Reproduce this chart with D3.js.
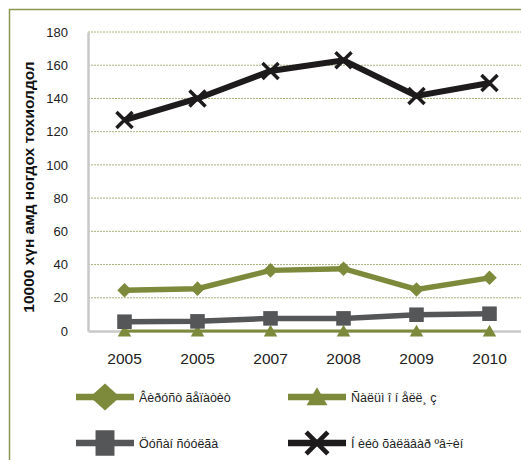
<!DOCTYPE html>
<html>
<head>
<meta charset="utf-8">
<script src="https://cdn.jsdelivr.net/npm/d3@7"></script>
<style>
  body { margin: 0; background: #fff; }
  text { font-family: "Liberation Sans", Arial, sans-serif; }
</style>
</head>
<body>
<script>
var years = ['2005', '2005 ', '2007', '2008', '2009', '2010'];
var hepatitis = [24.5, 25.5, 36.5, 37.5, 25, 32];
var salmonella = [0, 0, 0, 0, 0, 0];
var dysentery = [5.6, 5.8, 7.6, 7.6, 9.8, 10.4];
var totalInfect = [127, 140, 156.5, 163, 141.5, 149.3];
var yTicks = [0, 20, 40, 60, 80, 100, 120, 140, 160, 180];
var seriesNames = ['Âèðóñò ãåïàòèò', 'Ñàëüì î í åëë¸ ç', 'Öóñàí  ñóóëãà', 'Í èéò õàëäâàð ºâ÷èí'];

var olive = '#7d8a3b', grey = '#555658', black = '#1e1b1c';

var W = 521, H = 460;
var plotLeft = 88, plotTop = 32, plotBottom = 331;

var svg = d3.select('body').append('svg')
  .attr('width', W).attr('height', H);

// outer frame (cut off at right and bottom)
svg.append('rect')
  .attr('x', 9.5).attr('y', 9.5)
  .attr('width', 600).attr('height', 600)
  .style('fill', 'none').style('stroke', '#8a9654').style('stroke-width', 1.5);

var x = d3.scaleBand().domain(years).range([plotLeft, plotLeft + 6 * 73]);
var y = d3.scaleLinear().domain([0, 180]).range([plotBottom, plotTop]);

// grid
svg.append('g').selectAll('line')
  .data(yTicks.slice(1))
  .enter().append('line')
  .attr('x1', plotLeft).attr('x2', W)
  .attr('y1', function(d) { return y(d); })
  .attr('y2', function(d) { return y(d); })
  .style('stroke', '#a9b07a').style('stroke-width', 1)
  .style('stroke-dasharray', '2,1');

// axes
var yAxis = svg.append('g')
  .attr('transform', 'translate(' + plotLeft + ',0)')
  .call(d3.axisLeft(y).tickValues(yTicks).tickSize(0).tickPadding(20));
yAxis.select('.domain').style('stroke', '#c8c8c8').style('stroke-width', 2.5);
yAxis.selectAll('text').style('font-size', '13px').style('fill', '#222');

var xAxis = svg.append('g')
  .attr('transform', 'translate(0,' + plotBottom + ')')
  .call(d3.axisBottom(x).tickSize(0).tickPadding(22));
xAxis.select('.domain').style('stroke', '#c8c8c8').style('stroke-width', 2.5);
xAxis.selectAll('text').style('font-size', '15.5px').style('fill', '#222');

svg.append('text')
  .attr('transform', 'translate(34,187) rotate(-90)')
  .attr('text-anchor', 'middle')
  .style('font-size', '15.5px').style('font-weight', 'bold').style('fill', '#111')
  .text('10000 хүн амд ногдох тохиолдол');

var cx = function(d, i) { return x(years[i]) + x.bandwidth() / 2; };

var symbols = {
  diamond: d3.symbol().type(d3.symbolDiamond2).size(135),
  triangle: d3.symbol().type(d3.symbolTriangle2).size(130),
  square: d3.symbol().type(d3.symbolSquare2).size(270),
  cross: d3.symbol().type(d3.symbolX).size(170)
};

var series = [
  {data: salmonella, color: olive, width: 3, sym: 'triangle', dy: 1.5, legScale: '1.55'},
  {data: dysentery, color: grey, width: 5.5, sym: 'square', dy: 0, legScale: '1.3,1.75'},
  {data: hepatitis, color: olive, width: 5.5, sym: 'diamond', dy: 0, legScale: '2.05,1.85'},
  {data: totalInfect, color: black, width: 6, sym: 'cross', dy: 0, legScale: '1.35'}
];

function drawMarker(g, s) {
  var p = g.append('path').attr('d', symbols[s.sym]());
  if (s.sym == 'cross') {
    p.style('fill', 'none').style('stroke', s.color).style('stroke-width', 3.5);
  } else {
    p.style('fill', s.color);
  }
  return p;
}

series.map(function(s) {
  var line = d3.line()
    .x(function(d, i) { return cx(d, i); })
    .y(function(d) { return y(d); });
  svg.append('path')
    .datum(s.data)
    .attr('d', line)
    .style('fill', 'none').style('stroke', s.color)
    .style('stroke-width', s.width).style('stroke-linejoin', 'miter');

  s.data.map(function(d, i) {
    var g = svg.append('g')
      .attr('transform', 'translate(' + cx(d, i) + ',' + (y(d) + s.dy) + ')');
    drawMarker(g, s);
  });
});

// legend
var legend = [
  {name: seriesNames[0], s: series[2], lx: 76, ly: 397},
  {name: seriesNames[1], s: series[0], lx: 288, ly: 397},
  {name: seriesNames[2], s: series[1], lx: 76, ly: 443},
  {name: seriesNames[3], s: series[3], lx: 288, ly: 443}
];
legend.map(function(l) {
  svg.append('line')
    .attr('x1', l.lx).attr('x2', l.lx + 58)
    .attr('y1', l.ly).attr('y2', l.ly)
    .style('stroke', l.s.color).style('stroke-width', 6.5);
  var g = svg.append('g')
    .attr('transform', 'translate(' + (l.lx + 29) + ',' + (l.ly + l.s.dy * 1.5) + ') scale(' + l.s.legScale + ')');
  drawMarker(g, l.s);
  svg.append('text')
    .attr('x', l.lx + 63).attr('y', l.ly + 4.5)
    .style('font-size', '12.5px').style('fill', '#222')
    .text(l.name);
});
</script>
</body>
</html>
